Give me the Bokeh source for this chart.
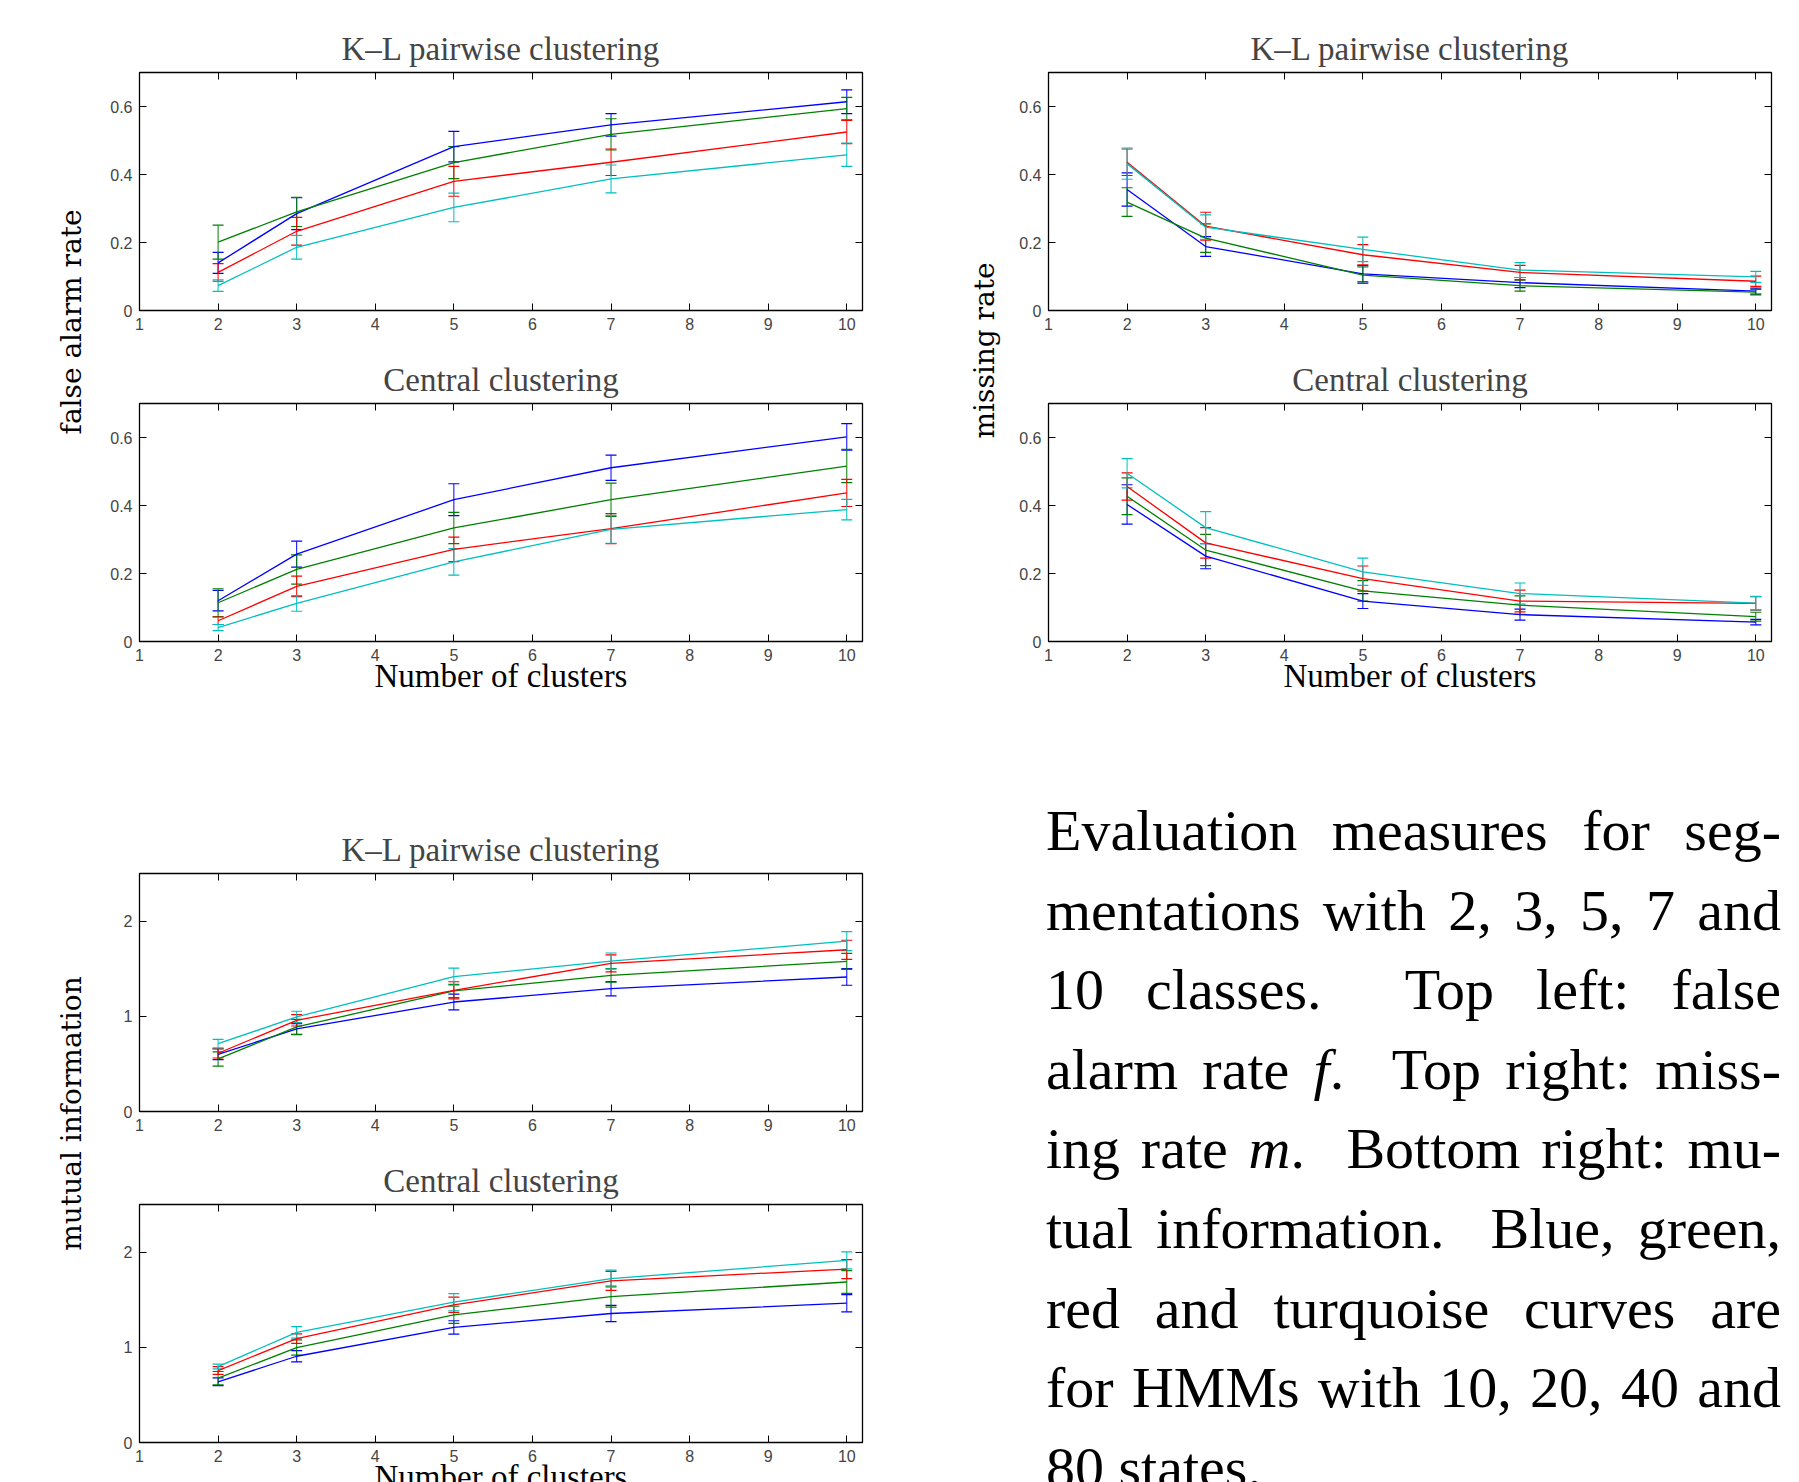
import math
from bokeh.plotting import figure
from bokeh.models import (ColumnDataSource, Whisker, TeeHead, Range1d, FixedTicker,
                          LinearAxis, Div)
from bokeh.core.properties import value
from bokeh.layouts import row, column
from bokeh.embed import file_html
from bokeh.resources import INLINE

# ---------------- data ----------------
clusters = [2, 3, 5, 7, 10]
x_ticks = [1, 2, 3, 4, 5, 6, 7, 8, 9, 10]
rate_ticks = [0, 0.2, 0.4, 0.6]
rate_tick_labels = ["0", "0.2", "0.4", "0.6"]
mi_ticks = [0, 1, 2]
mi_tick_labels = ["0", "1", "2"]

series_colors = ["#0000ff", "#008000", "#ff0000", "#00bfbf"]  # 10, 20, 40, 80 states

# false alarm rate, K-L pairwise clustering
fa_kl_blue = [0.140, 0.285, 0.482, 0.546, 0.614]
fa_kl_blue_err = [0.031, 0.047, 0.045, 0.033, 0.035]
fa_kl_green = [0.201, 0.290, 0.435, 0.518, 0.594]
fa_kl_green_err = [0.050, 0.043, 0.047, 0.046, 0.033]
fa_kl_red = [0.112, 0.233, 0.380, 0.436, 0.525]
fa_kl_red_err = [0.026, 0.041, 0.044, 0.039, 0.034]
fa_kl_cyan = [0.073, 0.186, 0.303, 0.387, 0.458]
fa_kl_cyan_err = [0.017, 0.035, 0.042, 0.041, 0.034]

# false alarm rate, central clustering
fa_c_blue = [0.120, 0.257, 0.417, 0.511, 0.602]
fa_c_blue_err = [0.030, 0.038, 0.047, 0.037, 0.039]
fa_c_green = [0.114, 0.212, 0.334, 0.417, 0.516]
fa_c_green_err = [0.041, 0.043, 0.046, 0.049, 0.049]
fa_c_red = [0.061, 0.162, 0.271, 0.332, 0.437]
fa_c_red_err = [0.011, 0.030, 0.036, 0.044, 0.040]
fa_c_cyan = [0.041, 0.112, 0.234, 0.330, 0.388]
fa_c_cyan_err = [0.009, 0.023, 0.039, 0.041, 0.030]

# missing rate, K-L pairwise clustering
mr_kl_blue = [0.356, 0.188, 0.108, 0.082, 0.057]
mr_kl_blue_err = [0.049, 0.029, 0.024, 0.015, 0.009]
mr_kl_green = [0.319, 0.213, 0.104, 0.073, 0.054]
mr_kl_green_err = [0.042, 0.042, 0.024, 0.016, 0.008]
mr_kl_red = [0.436, 0.248, 0.164, 0.112, 0.086]
mr_kl_red_err = [0.039, 0.041, 0.030, 0.021, 0.015]
mr_kl_cyan = [0.432, 0.245, 0.180, 0.119, 0.099]
mr_kl_cyan_err = [0.046, 0.036, 0.036, 0.022, 0.016]

# missing rate, central clustering
mr_c_blue = [0.403, 0.251, 0.119, 0.079, 0.057]
mr_c_blue_err = [0.058, 0.037, 0.022, 0.016, 0.008]
mr_c_green = [0.427, 0.269, 0.149, 0.107, 0.073]
mr_c_green_err = [0.054, 0.046, 0.030, 0.027, 0.013]
mr_c_red = [0.456, 0.290, 0.185, 0.119, 0.112]
mr_c_red_err = [0.040, 0.045, 0.037, 0.032, 0.020]
mr_c_cyan = [0.495, 0.335, 0.205, 0.141, 0.113]
mr_c_cyan_err = [0.043, 0.047, 0.040, 0.031, 0.020]

# mutual information, K-L pairwise clustering
mi_kl_blue = [0.601, 0.867, 1.150, 1.290, 1.413]
mi_kl_blue_err = [0.056, 0.056, 0.083, 0.075, 0.087]
mi_kl_green = [0.552, 0.888, 1.266, 1.430, 1.577]
mi_kl_green_err = [0.075, 0.080, 0.070, 0.070, 0.085]
mi_kl_red = [0.612, 0.958, 1.273, 1.556, 1.699]
mi_kl_red_err = [0.050, 0.060, 0.090, 0.090, 0.100]
mi_kl_cyan = [0.713, 0.993, 1.416, 1.580, 1.790]
mi_kl_cyan_err = [0.045, 0.060, 0.090, 0.085, 0.100]

# mutual information, central clustering
mi_c_blue = [0.638, 0.906, 1.209, 1.355, 1.463]
mi_c_blue_err = [0.040, 0.060, 0.070, 0.085, 0.090]
mi_c_green = [0.676, 0.997, 1.341, 1.533, 1.686]
mi_c_green_err = [0.070, 0.080, 0.090, 0.110, 0.120]
mi_c_red = [0.756, 1.091, 1.446, 1.697, 1.822]
mi_c_red_err = [0.040, 0.050, 0.080, 0.100, 0.100]
mi_c_cyan = [0.798, 1.157, 1.474, 1.721, 1.913]
mi_c_cyan_err = [0.025, 0.060, 0.090, 0.090, 0.090]

caption_lines = [
    "Evaluation measures for seg-",
    "mentations with 2, 3, 5, 7 and",
    "10 classes.&nbsp; Top left: false",
    "alarm rate <i>f</i>.&nbsp; Top right: miss-",
    "ing rate <i>m</i>.&nbsp; Bottom right: mu-",
    "tual information.&nbsp; Blue, green,",
    "red and turquoise curves are",
    "for HMMs with 10, 20, 40 and",
    "80 states.",
]

# ---------------- styling ----------------
FRAME_W, FRAME_H = 723, 238
TICK_FONT = "Liberation Sans"
TITLE_FONT = "Liberation Serif"
LABEL_FONT = "DejaVu Serif"


def make_panel(title, ymax, yticks, ylabels, means, errs, top, bottom, xlabel=False):
    p = figure(frame_width=FRAME_W, frame_height=FRAME_H,
               x_range=Range1d(1, 10.2), y_range=Range1d(0, ymax),
               min_border_left=40, min_border_right=20,
               min_border_top=top, min_border_bottom=bottom,
               output_backend="svg", toolbar_location=None,
               x_axis_location=None, y_axis_location=None)
    p.grid.visible = False
    p.outline_line_color = "black"
    p.outline_line_width = 1.3
    p.background_fill_color = "white"
    p.border_fill_color = "white"

    for loc in ("below", "above"):
        ax = LinearAxis(ticker=FixedTicker(ticks=x_ticks))
        ax.axis_line_color = None
        ax.major_tick_in = 7
        ax.major_tick_out = 0
        ax.minor_tick_line_color = None
        ax.major_tick_line_color = "black"
        if loc == "below":
            ax.major_label_text_font = TICK_FONT
            ax.major_label_text_font_size = "16px"
            ax.major_label_standoff = 7
            if xlabel:
                ax.axis_label = "Number of clusters"
                ax.axis_label_text_font = TITLE_FONT
                ax.axis_label_text_font_size = "33px"
                ax.axis_label_text_font_style = "normal"
                ax.axis_label_text_color = "black"
                ax.axis_label_standoff = -6
        else:
            ax.major_label_overrides = {t: "" for t in x_ticks}
            ax.major_label_standoff = 0
        p.add_layout(ax, loc)
    for loc in ("left", "right"):
        ax = LinearAxis(ticker=FixedTicker(ticks=yticks))
        ax.axis_line_color = None
        ax.major_tick_in = 7
        ax.major_tick_out = 0
        ax.minor_tick_line_color = None
        ax.major_tick_line_color = "black"
        if loc == "left":
            ax.major_label_overrides = dict(zip(yticks, ylabels))
            ax.major_label_text_font = TICK_FONT
            ax.major_label_text_font_size = "16px"
            ax.major_label_standoff = 7
        else:
            ax.major_label_overrides = {t: "" for t in yticks}
            ax.major_label_standoff = 0
        p.add_layout(ax, loc)

    p.title.text = title
    p.title.text_font = TITLE_FONT
    p.title.text_font_size = "33px"
    p.title.text_font_style = "normal"
    p.title.align = "center"
    p.title.standoff = 11

    for m, e, c in zip(means, errs, series_colors):
        src = ColumnDataSource(dict(
            x=clusters, y=m,
            upper=[a + b for a, b in zip(m, e)],
            lower=[a - b for a, b in zip(m, e)]))
        w = Whisker(source=src, base="x", upper="upper", lower="lower",
                    line_color=c, line_width=1,
                    upper_head=TeeHead(size=11, line_color=c, line_width=1.2),
                    lower_head=TeeHead(size=11, line_color=c, line_width=1.2))
        p.add_layout(w)
        p.line("x", "y", source=src, line_color=c, line_width=1.3)
    return p


def label_fig(w, h, text, x, y):
    p = figure(width=w, height=h, x_range=Range1d(0, w), y_range=Range1d(0, h),
               min_border=0, output_backend="svg", toolbar_location=None,
               x_axis_location=None, y_axis_location=None)
    p.grid.visible = False
    p.outline_line_color = None
    p.text(x=[x], y=[y], text=[text], angle=math.pi / 2, text_align="center",
           text_baseline="middle", text_font=value(LABEL_FONT),
           text_font_size="28px", text_color="black")
    return p


pA = make_panel("K\u2013L pairwise clustering", 0.7, rate_ticks, rate_tick_labels,
                [fa_kl_blue, fa_kl_green, fa_kl_red, fa_kl_cyan],
                [fa_kl_blue_err, fa_kl_green_err, fa_kl_red_err, fa_kl_cyan_err], 72, 30)
pB = make_panel("Central clustering", 0.7, rate_ticks, rate_tick_labels,
                [fa_c_blue, fa_c_green, fa_c_red, fa_c_cyan],
                [fa_c_blue_err, fa_c_green_err, fa_c_red_err, fa_c_cyan_err], 63, 100, True)
pE = make_panel("K\u2013L pairwise clustering", 0.7, rate_ticks, rate_tick_labels,
                [mr_kl_blue, mr_kl_green, mr_kl_red, mr_kl_cyan],
                [mr_kl_blue_err, mr_kl_green_err, mr_kl_red_err, mr_kl_cyan_err], 72, 30)
pF = make_panel("Central clustering", 0.7, rate_ticks, rate_tick_labels,
                [mr_c_blue, mr_c_green, mr_c_red, mr_c_cyan],
                [mr_c_blue_err, mr_c_green_err, mr_c_red_err, mr_c_cyan_err], 63, 100, True)
pC = make_panel("K\u2013L pairwise clustering", 2.5, mi_ticks, mi_tick_labels,
                [mi_kl_blue, mi_kl_green, mi_kl_red, mi_kl_cyan],
                [mi_kl_blue_err, mi_kl_green_err, mi_kl_red_err, mi_kl_cyan_err], 132, 30)
pD = make_panel("Central clustering", 2.5, mi_ticks, mi_tick_labels,
                [mi_c_blue, mi_c_green, mi_c_red, mi_c_cyan],
                [mi_c_blue_err, mi_c_green_err, mi_c_red_err, mi_c_cyan_err], 63, 40, True)

L1 = label_fig(99, 741, "false alarm rate", 71, 419.5)
R1 = label_fig(126, 741, "missing rate", 102, 391)
L2 = label_fig(99, 741, "mutual information", 71, 369)

line_html = []
for i, t in enumerate(caption_lines):
    last = i == len(caption_lines) - 1
    align = "left" if last else "justify"
    line_html.append(
        f'<div style="width:735px;text-align:{align};text-align-last:{align};">{t}</div>')
caption_html = (
    '<div style="height:741px;overflow:hidden;box-sizing:border-box;'
    'padding-left:159px;padding-top:45px;font-family:\'Liberation Serif\',serif;'
    'font-size:58px;line-height:79.6px;color:#000;">' + "".join(line_html) + "</div>")
caption = Div(text=caption_html, width=909, height=741, styles={"overflow": "hidden"})

row1 = row(L1, column(pA, pB), R1, column(pE, pF))
row2 = row(L2, column(pC, pD), caption)
layout = column(row1, row2, styles={"overflow": "hidden", "height": "1482px"})

open("out.html", "w").write(file_html(layout, INLINE))
